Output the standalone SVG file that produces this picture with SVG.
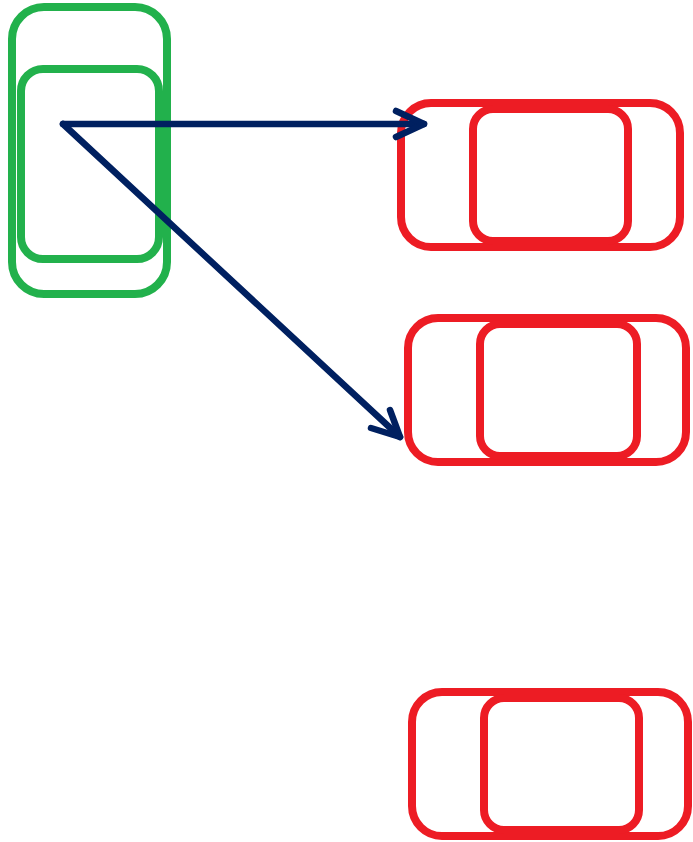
<svg xmlns="http://www.w3.org/2000/svg" width="693" height="842" viewBox="0 0 693 842">
<style>
.green{fill:none;stroke:#22b14c;stroke-width:8}
.red{fill:none;stroke:#ed1c24;stroke-width:8}
.arrow{fill:none;stroke:#002060;stroke-width:6.5;stroke-linecap:round;stroke-linejoin:round}
</style>
<rect width="693" height="842" fill="#ffffff"/>
<g id="green-car">
<rect class="green" x="12" y="7" width="155" height="287" rx="32"/>
<rect class="green" x="21" y="69" width="138" height="190" rx="22"/>
</g>
<g id="red-car-1">
<rect class="red" x="401" y="103" width="279" height="144" rx="30"/>
<rect class="red" x="473" y="109" width="155" height="132" rx="20"/>
</g>
<g id="red-car-2">
<rect class="red" x="408" y="318" width="278" height="144" rx="30"/>
<rect class="red" x="480" y="324" width="157" height="132" rx="20"/>
</g>
<g id="red-car-3">
<rect class="red" x="412" y="692" width="276" height="144" rx="30"/>
<rect class="red" x="484" y="698" width="155" height="132" rx="20"/>
</g>
<g id="connectors">
<path class="arrow" d="M63 124 H424"/>
<path class="arrow" d="M396 111 L424 124 L396 137"/>
<path class="arrow" d="M63 124 L400 437"/>
<path class="arrow" d="M390 410 L400 437 L371 428"/>
</g>
</svg>
